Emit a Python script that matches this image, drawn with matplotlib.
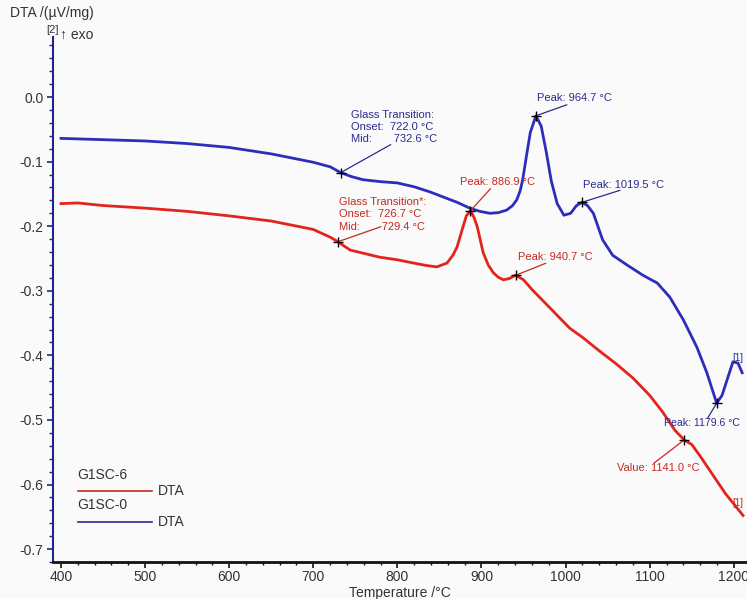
import matplotlib
matplotlib.use("Agg")
import matplotlib.pyplot as plt
from matplotlib.ticker import MultipleLocator, FormatStrFormatter

plt.rcParams['font.family'] = ['Liberation Sans', 'DejaVu Sans']

# ---------------- data ----------------
t_g1sc0 = [400, 450, 500, 550, 600, 650, 700, 720, 732.6, 745, 759, 780, 800, 820, 839,
           855, 871, 886, 898, 910, 920, 930, 937, 942, 946, 949, 953, 958, 964.7, 971,
           977, 983, 990, 998, 1006, 1013, 1019.5, 1026, 1033, 1044, 1056, 1073, 1092,
           1109, 1124, 1140, 1156, 1168, 1179.6, 1186, 1192, 1199, 1205, 1210]
v_g1sc0 = [-0.064, -0.066, -0.068, -0.072, -0.078, -0.088, -0.101, -0.108, -0.117, -0.123,
           -0.128, -0.131, -0.133, -0.139, -0.147, -0.155, -0.163, -0.172, -0.177, -0.180,
           -0.179, -0.175, -0.168, -0.159, -0.145, -0.128, -0.095, -0.055, -0.029, -0.045,
           -0.085, -0.130, -0.165, -0.183, -0.180, -0.168, -0.163, -0.168, -0.180, -0.221,
           -0.245, -0.260, -0.276, -0.288, -0.310, -0.345, -0.387, -0.427, -0.474, -0.462,
           -0.438, -0.410, -0.412, -0.427]

t_g1sc6 = [400, 420, 450, 500, 550, 600, 650, 700, 720, 729.4, 737, 744, 760, 779, 800,
           819, 835, 847, 859, 866, 871, 878, 882, 886.9, 891, 895, 902, 908, 914, 920,
           926, 933, 940.7, 950, 960, 975, 990, 1005, 1020, 1040, 1060, 1080, 1100,
           1115, 1130, 1141, 1150, 1160, 1175, 1190, 1200, 1211]
v_g1sc6 = [-0.165, -0.164, -0.168, -0.172, -0.177, -0.184, -0.192, -0.205, -0.217, -0.224,
           -0.231, -0.237, -0.242, -0.248, -0.252, -0.257, -0.261, -0.263, -0.257, -0.245,
           -0.232, -0.201, -0.184, -0.176, -0.186, -0.201, -0.241, -0.260, -0.272, -0.279,
           -0.283, -0.281, -0.276, -0.283, -0.298, -0.318, -0.338, -0.358, -0.372, -0.393,
           -0.413, -0.435, -0.462, -0.487, -0.516, -0.531, -0.538, -0.556, -0.585, -0.614,
           -0.630, -0.648]

series_names = ["G1SC-6", "G1SC-0"]
y_ticks = [0.0, -0.1, -0.2, -0.3, -0.4, -0.5, -0.6, -0.7]
x_ticks = [400, 500, 600, 700, 800, 900, 1000, 1100, 1200]

# annotations: (T, label)
blue_notes = [(732.6, "Glass Transition:\nOnset:  722.0 °C\nMid:       732.6 °C"),
              (964.7, "Peak: 964.7 °C"),
              (1019.5, "Peak: 1019.5 °C"),
              (1179.6, "Peak: 1179.6 °C")]
red_notes = [(729.4, "Glass Transition*:\nOnset:  726.7 °C\nMid:       729.4 °C"),
             (886.9, "Peak: 886.9 °C"),
             (940.7, "Peak: 940.7 °C"),
             (1141.0, "Value: 1141.0 °C")]

# ---------------- figure ----------------
BLUE = '#2d2dbb'
RED = '#e3241c'
BLUE_TXT = '#2b2b8f'
RED_TXT = '#c42a22'
BG = '#fafafa'

fig = plt.figure(figsize=(7.47, 5.99), dpi=100, facecolor=BG)
ax = fig.add_axes([53/747, 37/599, 694/747, 525/599], facecolor=BG)

ax.plot(t_g1sc0, v_g1sc0, color=BLUE, lw=2.0, solid_joinstyle='round')
ax.plot(t_g1sc6, v_g1sc6, color=RED, lw=2.0, solid_joinstyle='round')

ax.set_xlim(390.5, 1215.7)
ax.set_ylim(-0.72, 0.093)

for s in ['top', 'right']:
    ax.spines[s].set_visible(False)
ax.spines['left'].set_color('#23238a')
ax.spines['left'].set_linewidth(1.5)
ax.spines['bottom'].set_color('#111111')
ax.spines['bottom'].set_linewidth(2.0)

ax.set_yticks(y_ticks)
ax.yaxis.set_major_formatter(FormatStrFormatter('%.1f'))
ax.yaxis.set_minor_locator(MultipleLocator(0.02))
ax.set_xticks(x_ticks)
ax.xaxis.set_minor_locator(MultipleLocator(20))
ax.tick_params(axis='y', which='major', length=4, width=1.2, color='#23238a',
               labelsize=10, labelcolor='#333333', pad=3)
ax.tick_params(axis='y', which='minor', length=3, width=1.0, color='#23238a')
ax.tick_params(axis='x', which='major', length=4, width=1.2, color='#111111',
               labelsize=10, labelcolor='#333333', pad=2)
ax.tick_params(axis='x', which='minor', length=2, width=1.0, color='#111111')

ax.set_xlabel("Temperature /°C", fontsize=10, color='#333333', labelpad=1)

fig.text(10/747, 1 - 13/599, "DTA /(µV/mg)", fontsize=10, color='#333333',
         ha='left', va='center')
fig.text(46/747, 1 - 30/599, "[2]", fontsize=8, color='#333333', ha='left', va='center')
fig.text(60/747, 1 - 35/599, "↑ exo", fontsize=10, color='#333333', ha='left', va='center')

# annotation placement (pixel offsets from the marked point)
blue_text_off = [(10, 63), (1, 18), (1, 17), (-53, -20)]
blue_line_off = [(50, 28), (31, 11), (38, 12), (-9, -15)]
red_text_off = [(1, 45), (-10, 29), (2, 18), (-67, -28)]
red_line_off = [(43, 15), (20, 22), (30, 12), (-30, -23)]
note_sizes_blue = [8, 8, 8, 7.6]
note_sizes_red = [8, 8, 8, 8]


def value_at(ts, vs, t):
    j = min(range(len(ts)), key=lambda k: abs(ts[k] - t))
    return vs[j]


def draw_notes(notes, ts, vs, col, toffs, loffs, sizes):
    for (t, label), to, lo, fs in zip(notes, toffs, loffs, sizes):
        v = value_at(ts, vs, t)
        ax.plot([t], [v], marker='+', color='black', ms=7, mew=1.0, zorder=5)
        ax.annotate('', xy=(t, v), xytext=lo, textcoords='offset pixels',
                    arrowprops=dict(arrowstyle='-', color=col, lw=0.9,
                                    shrinkA=0, shrinkB=0))
        multi = '\n' in label
        ax.annotate(label, xy=(t, v), xytext=to, textcoords='offset pixels',
                    ha='left', va='top' if multi else 'center', fontsize=fs,
                    color=col, linespacing=1.3)


draw_notes(blue_notes, t_g1sc0, v_g1sc0, BLUE_TXT, blue_text_off, blue_line_off,
           note_sizes_blue)
draw_notes(red_notes, t_g1sc6, v_g1sc6, RED_TXT, red_text_off, red_line_off,
           note_sizes_red)

ax.annotate("[1]", xy=(t_g1sc0[-1], v_g1sc0[-1]), xytext=(-10, 15),
            textcoords='offset pixels', fontsize=7, color=BLUE_TXT, ha='left', va='center')
ax.annotate("[1]", xy=(t_g1sc6[-1], v_g1sc6[-1]), xytext=(-11, 13),
            textcoords='offset pixels', fontsize=7, color=RED_TXT, ha='left', va='center')

# legend drawn manually
ax.text(0.0346, 0.166, series_names[0], transform=ax.transAxes, fontsize=10,
        color='#333333', ha='left', va='center')
ax.plot([0.036, 0.143], [0.135, 0.135], transform=ax.transAxes, color='#c42a22', lw=1.2)
ax.text(0.151, 0.135, "DTA", transform=ax.transAxes, fontsize=10,
        color='#333333', ha='left', va='center')
ax.text(0.0346, 0.1086, series_names[1], transform=ax.transAxes, fontsize=10,
        color='#333333', ha='left', va='center')
ax.plot([0.036, 0.143], [0.076, 0.076], transform=ax.transAxes, color='#2b2b8f', lw=1.2)
ax.text(0.151, 0.076, "DTA", transform=ax.transAxes, fontsize=10,
        color='#333333', ha='left', va='center')

fig.savefig("out.png", dpi=100, facecolor=BG)
